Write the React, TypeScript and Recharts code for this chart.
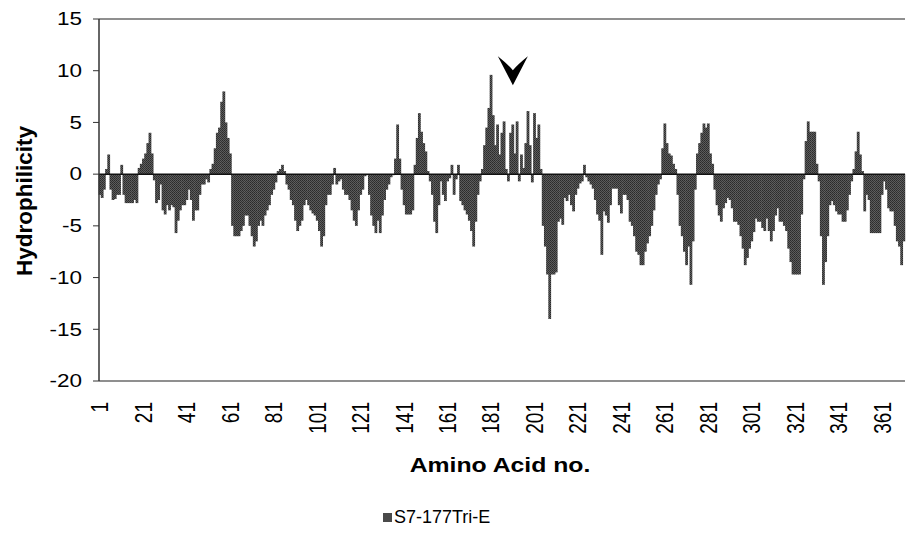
import { Bar, BarChart, ReferenceDot, ReferenceLine, XAxis, YAxis } from 'recharts'

const FONT = '"Liberation Sans", Arial, Helvetica, sans-serif'
const BAR_FILL = '#4a4a4a'

const seriesName = 'S7-177Tri-E'

// hydrophilicity per residue, residues 1..371
const hydrophilicity = [
  -2.0, -2.3, -1.5, 0.5, 1.9, -1.5, -2.5, -2.4, -2.0, -2.0,
  0.9, -2.0, -2.8, -2.8, -2.8, -2.8, -2.5, -2.8, 0.6, 1.0,
  1.5, 2.0, 3.0, 4.0, 2.0, -0.6, -2.8, -2.5, -1.0, -3.5,
  -3.9, -3.0, -3.5, -3.0, -3.2, -5.7, -4.5, -3.5, -3.0, -3.0,
  -2.5, -1.5, -2.5, -4.5, -3.5, -3.5, -2.0, -1.0, -1.0, -0.5,
  -0.8, 0.5, 1.0, 2.5, 4.0, 4.5, 7.0, 8.0, 5.0, 3.5,
  2.0, -5.0, -6.0, -6.0, -6.0, -5.5, -5.0, -4.0, -4.0, -5.0,
  -6.0, -7.0, -6.5, -5.0, -4.5, -5.0, -4.0, -3.5, -3.0, -2.0,
  -1.5, -0.8, 0.3, 0.5, 0.9, 0.3, -1.0, -1.5, -2.5, -3.0,
  -4.5, -5.5, -5.0, -4.5, -3.0, -2.5, -3.0, -3.5, -3.8, -4.0,
  -4.5, -5.5, -7.0, -6.0, -3.0, -2.0, -2.0, -1.0, 0.6, -1.0,
  -0.7, -0.5, -1.5, -2.0, -2.0, -2.5, -3.5, -4.5, -5.0, -3.5,
  -2.0, -1.5, -0.2, -0.1, -2.0, -4.0, -5.0, -5.7, -4.5, -5.7,
  -4.0, -2.5, -1.5, -1.0, -0.3, -0.1, 1.5, 4.8, 1.5, -1.5,
  -3.0, -3.9, -3.9, -3.9, -3.5, 0.9, 3.5, 5.9, 4.1, 3.0,
  2.2, 0.3, -0.7, -2.0, -4.6, -5.7, -3.0, -0.7, -2.0, -2.6,
  -0.7, -0.4, 0.9, -2.0, -0.5, 0.9, -2.6, -3.0, -3.5, -3.9,
  -4.5, -5.5, -7.0, -4.6, -2.0, -0.7, 0.5, 2.8, 4.5, 6.4,
  9.6, 5.7, 2.8, 4.8, 1.9, 4.0, 5.1, 0.5, -0.7, 4.0,
  4.8, 2.0, 5.1, -0.7, 1.9, 0.6, 3.0, 6.1, 2.8, -0.8,
  5.9, 3.5, 4.8, 0.5, -5.0, -7.0, -9.7, -14.0, -9.7, -9.7,
  -9.5, -4.6, -4.3, -4.9, -2.3, -2.6, -2.0, -3.0, -3.6, -2.0,
  -1.4, -0.9, -0.7, 0.9, -0.3, -0.7, -1.0, -1.4, -2.5, -3.9,
  -4.5, -7.8, -3.6, -4.0, -4.7, -3.0, -1.4, -1.4, -1.4, -3.0,
  -3.8, -2.0, -2.0, -2.5, -4.6, -5.0, -6.0, -7.5, -7.8, -8.8,
  -8.8, -7.5, -6.7, -6.0, -5.0, -3.5, -2.0, -1.0, -0.5, 2.5,
  4.9, 3.0, 2.0, 1.8, 1.0, 0.5, -2.0, -5.0, -6.0, -7.5,
  -8.8, -7.0, -10.7, -6.5, -1.5, 2.0, 3.0, 4.0, 4.9, 4.5,
  4.9, 2.0, 1.0, -1.5, -3.0, -4.0, -4.6, -3.3, -2.8, -2.3,
  -2.5, -3.3, -4.6, -4.6, -4.9, -6.0, -7.2, -8.8, -8.1, -7.2,
  -6.5, -5.6, -4.3, -4.6, -4.6, -5.2, -5.5, -4.3, -5.5, -6.5,
  -5.5, -4.0, -3.3, -4.6, -4.6, -5.0, -5.5, -7.2, -8.5, -9.7,
  -9.7, -9.7, -9.7, -3.9, -0.5, 3.2, 5.1, 4.1, 4.1, 4.1,
  1.0, -0.7, -6.0, -10.7, -8.5, -6.0, -3.0, -2.6, -3.0, -3.6,
  -3.9, -3.9, -4.6, -4.6, -3.5, -2.0, -0.7, 0.5, 2.2, 4.1,
  1.9, 0.3, -3.6, -2.0, -2.5, -5.7, -5.7, -5.7, -5.7, -5.7,
  -2.0, -0.7, -1.5, -3.3, -3.6, -3.6, -5.0, -6.5, -7.0, -8.8,
  -6.5,
]

const residueTicks = [1, 21, 41, 61, 81, 101, 121, 141, 161, 181, 201, 221, 241, 261, 281, 301, 321, 341, 361]
const yTicks = [-20, -15, -10, -5, 0, 5, 10, 15]

// arrow marking the cleavage region
const arrowResidue = 191
const arrowTipValue = 8.6

const data = hydrophilicity.map((value, i) => ({ residue: i + 1, value }))

// text in this figure runs a little wide
const WIDE = 1.25

function ResidueTick({ x, y, payload }: any) {
  const ty = y + 21
  return (
    <text
      transform={`translate(${x}, ${ty}) scale(${WIDE}, 1) rotate(-90)`}
      textAnchor="end"
      dy="0.35em"
      fontFamily={FONT}
      fontSize={19}
      fill="#000"
    >
      {payload.value}
    </text>
  )
}

function ValueTick({ x, y, payload }: any) {
  return (
    <text
      transform={`translate(${x}, ${y}) scale(${WIDE}, 1)`}
      textAnchor="end"
      dy="0.35em"
      fontFamily={FONT}
      fontSize={18}
      fill="#000"
    >
      {payload.value}
    </text>
  )
}

function YTitle() {
  return (
    <text
      transform="translate(24, 201) rotate(-90)"
      textAnchor="middle"
      dominantBaseline="central"
      fontFamily={FONT}
      fontWeight="bold"
      fontSize={22.5}
      fill="#000"
    >
      Hydrophilicity
    </text>
  )
}

function XTitle() {
  return (
    <text
      transform={`translate(500, 472) scale(1.18, 1)`}
      textAnchor="middle"
      fontFamily={FONT}
      fontWeight="bold"
      fontSize={21}
      fill="#000"
    >
      Amino Acid no.
    </text>
  )
}

// bars drawn slightly wider than the band so neighbours merge into one profile
function ProfileBar({ x, y, width, height }: any) {
  if (!height) return null
  const top = height < 0 ? y + height : y
  return <rect x={x - 0.4} y={top} width={width + 0.8} height={Math.abs(height)} fill="url(#grain)" />
}

function ArrowHead({ cx, cy }: any) {
  if (cx == null || cy == null) return null
  return (
    <path
      d={`M ${cx} ${cy} L ${cx - 15} ${cy - 29} Q ${cx - 5} ${cy - 21} ${cx} ${cy - 15} Q ${cx + 5} ${cy - 21} ${cx + 15} ${cy - 29} Z`}
      fill="#000"
    />
  )
}

export default function App() {
  return (
    <div style={{ position: 'absolute', left: 0, top: 0, width: 907, height: 552, background: '#fff' }}>
      <BarChart
        width={907}
        height={552}
        data={data}
        margin={{ top: 19, right: 2, left: 0, bottom: 131 }}
        barCategoryGap={0}
        barGap={0}
      >
        <defs>
          {/* halftone fill for the profile */}
          <pattern id="grain" width={2} height={2} patternUnits="userSpaceOnUse">
            <rect width={2} height={2} fill="#5c5c5c" />
            <rect width={1} height={1} fill="#2a2a2a" />
            <rect x={1} y={1} width={1} height={1} fill="#333" />
          </pattern>
        </defs>
        <XAxis
          dataKey="residue"
          ticks={residueTicks}
          interval={0}
          height={40}
          tickSize={0}
          tickMargin={0}
          axisLine={false}
          tick={<ResidueTick />}
          label={<XTitle />}
        />
        <YAxis
          domain={[-20, 15]}
          ticks={yTicks}
          interval={0}
          width={99}
          tickSize={6}
          tickMargin={11}
          axisLine={{ stroke: '#333', strokeWidth: 1.5 }}
          tickLine={{ stroke: '#333' }}
          tick={<ValueTick />}
          label={<YTitle />}
        />
        <ReferenceLine y={15} stroke="#6a6a6a" strokeWidth={1.5} />
        <ReferenceLine y={-20} stroke="#6a6a6a" strokeWidth={1.5} />
        <Bar
          dataKey="value"
          name={seriesName}
          fill={BAR_FILL}
          shape={<ProfileBar />}
          isAnimationActive={false}
        />
        <ReferenceLine y={0} stroke="#111" strokeWidth={1.5} />
        <ReferenceDot x={arrowResidue} y={arrowTipValue} r={1} shape={<ArrowHead />} />
      </BarChart>
      <div
        style={{
          position: 'absolute',
          left: 383,
          top: 507,
          display: 'flex',
          alignItems: 'center',
          fontFamily: FONT,
          fontSize: 18,
          color: '#000',
        }}
      >
        <span style={{ width: 9, height: 9, background: BAR_FILL, marginRight: 2, display: 'inline-block' }} />
        {seriesName}
      </div>
    </div>
  )
}
